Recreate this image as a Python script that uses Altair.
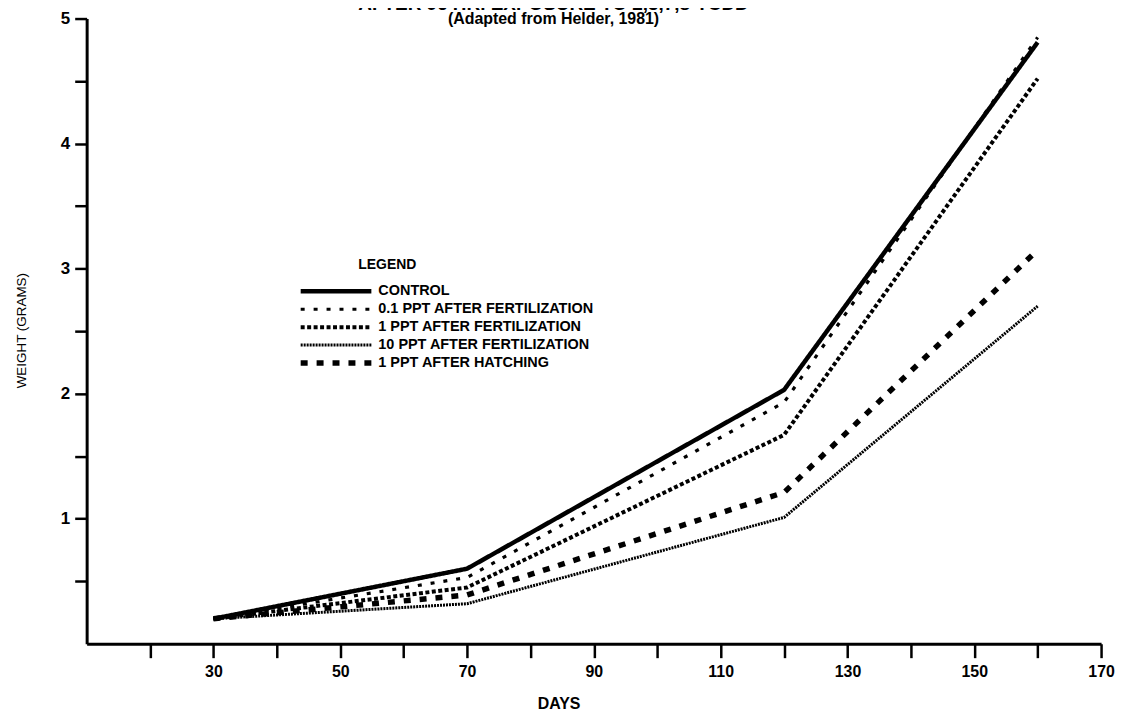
import altair as alt
import pandas as pd

# ---- data ----
days = [30, 70, 120, 160]
series_names = [
    "CONTROL",
    "0.1 PPT AFTER FERTILIZATION",
    "1 PPT AFTER FERTILIZATION",
    "10 PPT AFTER FERTILIZATION",
    "1 PPT AFTER HATCHING",
]
control = [0.2, 0.6, 2.03, 4.81]
ppt01_fert = [0.2, 0.53, 1.93, 4.85]
ppt1_fert = [0.2, 0.45, 1.67, 4.52]
ppt10_fert = [0.2, 0.32, 1.01, 2.70]
ppt1_hatch = [0.2, 0.39, 1.21, 3.15]
values = [control, ppt01_fert, ppt1_fert, ppt10_fert, ppt1_hatch]

x_ticks = [20, 30, 40, 50, 60, 70, 80, 90, 100, 110, 120, 130, 140, 150, 160, 170]
y_ticks = [0.5, 1, 1.5, 2, 2.5, 3, 3.5, 4, 4.5, 5]

title_line1 = "AFTER 96 HR. EXPOSURE TO 2,3,7,8-TCDD"
title_line2 = "(Adapted from Helder, 1981)"

# ---- styles ----
styles = [
    dict(strokeWidth=4.5, strokeDash=[1, 0]),
    dict(strokeWidth=3.2, strokeDash=[4, 9]),
    dict(strokeWidth=4, strokeDash=[4, 2.5]),
    dict(strokeWidth=3, strokeDash=[2, 1]),
    dict(strokeWidth=5.5, strokeDash=[7, 9]),
]

SANS = "Liberation Sans, Arial"

x_scale = alt.Scale(domain=[10, 170], nice=False, zero=False)
y_scale = alt.Scale(domain=[0, 5], nice=False, zero=True)

layers = []
for i, (name, vals) in enumerate(zip(series_names, values)):
    df = pd.DataFrame({"day": days, "weight": vals, "series": name})
    enc = dict(
        x=alt.X("day:Q", scale=x_scale),
        y=alt.Y("weight:Q", scale=y_scale),
    )
    if i == 0:
        enc["x"] = alt.X(
            "day:Q",
            scale=x_scale,
            title="DAYS",
            axis=alt.Axis(
                values=x_ticks,
                labelExpr="datum.value % 20 == 10 ? format(datum.value, 'd') : ''",
                grid=False,
                tickSize=14,
                tickWidth=2.5,
                tickColor="black",
                domainWidth=3,
                domainColor="black",
                labelFont=SANS,
                labelFontSize=16,
                labelFontWeight="bold",
                labelColor="black",
                labelPadding=6,
                labelFlush=False,
                titleFont=SANS,
                titleFontSize=16,
                titleFontWeight="bold",
                titleColor="black",
                titleX=474,
                titleY=60,
                titleBaseline="middle",
                titleAnchor="start",
                titleAlign="center",
            ),
        )
        enc["y"] = alt.Y(
            "weight:Q",
            scale=y_scale,
            title="WEIGHT (GRAMS)",
            axis=alt.Axis(
                values=y_ticks,
                labelExpr="datum.value % 1 == 0 ? format(datum.value, 'd') : ''",
                grid=False,
                tickSize=12,
                tickWidth=2.5,
                tickColor="black",
                domainWidth=3,
                domainColor="black",
                labelFont=SANS,
                labelFontSize=17,
                labelFontWeight="bold",
                labelColor="black",
                labelPadding=5,
                labelFlush=False,
                labelOverlap=False,
                titleFont=SANS,
                titleFontSize=13.5,
                titleFontWeight="normal",
                titleColor="black",
                titleX=-65,
                titleY=313,
                titleBaseline="middle",
                titleAnchor="start",
                titleAlign="center",
            ),
        )
    layers.append(
        alt.Chart(df)
        .mark_line(color="black", strokeCap="butt", strokeJoin="miter", **styles[i])
        .encode(**enc)
    )

# ---- legend (drawn inside plot) ----
row_y0 = 274
row_step = 18
for i, name in enumerate(series_names):
    ldf = pd.DataFrame({"series": [name]})
    ry = row_y0 + i * row_step
    layers.append(
        alt.Chart(ldf)
        .mark_rule(color="black", strokeCap="butt", **styles[i])
        .encode(x=alt.value(215), x2=alt.value(286), y=alt.value(ry))
    )
    layers.append(
        alt.Chart(ldf)
        .mark_text(
            align="left",
            baseline="middle",
            font=SANS,
            fontSize=14.5,
            fontWeight="bold",
            color="black",
        )
        .encode(text="series:N", x=alt.value(293), y=alt.value(ry))
    )

layers.append(
    alt.Chart(pd.DataFrame({"t": ["LEGEND"]}))
    .mark_text(align="center", baseline="middle", font=SANS, fontSize=14,
               fontWeight="bold", color="black")
    .encode(text="t:N", x=alt.value(302), y=alt.value(248))
)

# ---- titles (first line is cut off at the top edge, as in the reference) ----
layers.append(
    alt.Chart(pd.DataFrame({"t": [title_line1]}))
    .mark_text(align="center", baseline="alphabetic", font=SANS, fontSize=19,
               fontWeight="bold", color="black")
    .encode(text="t:N", x=alt.value(469), y=alt.value(-8.5))
)
layers.append(
    alt.Chart(pd.DataFrame({"t": [title_line2]}))
    .mark_text(align="center", baseline="middle", font=SANS, fontSize=16,
               fontWeight="bold", color="black")
    .encode(text="t:N", x=alt.value(469), y=alt.value(0.5))
)

chart = (
    alt.layer(*layers)
    .properties(
        width=1019,
        height=628,
        autosize=alt.AutoSizeParams(type="none"),
        padding={"left": 79, "top": 9, "right": 16, "bottom": 72},
        background="white",
    )
    .configure_view(stroke=None)
)

chart.save("out.html", embed_options={"renderer": "svg", "actions": False})
